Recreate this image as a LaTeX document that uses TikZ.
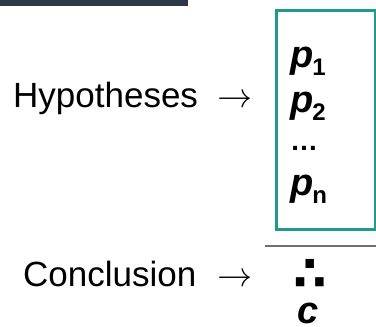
\documentclass[tikz,border=0pt]{standalone}
\usepackage{fontspec}
\usepackage{unicode-math}
\setmainfont{Liberation Sans}
\setmathfont{Latin Modern Math}
\newfontfamily\dejavu{DejaVu Sans}
\definecolor{tealbox}{HTML}{1F9A8C}
\definecolor{navybar}{HTML}{2D3748}
\definecolor{rulegray}{HTML}{707070}
\begin{document}
\begin{tikzpicture}[x=1pt,y=-1pt,
  lbl/.style={anchor=base west, inner sep=0pt, font=\fontsize{35}{40}\selectfont},
  prem/.style={anchor=base west, inner sep=0pt, font=\fontsize{38}{44}\selectfont\bfseries\itshape}]
\useasboundingbox (0,0) rectangle (376,327);
\fill[navybar] (0,0) rectangle (188,6);
\node[draw=tealbox, line width=3pt, minimum width=99pt, minimum height=219pt, anchor=north west, inner sep=0pt] (box) at (274.5,8.5) {};
\newcommand{\mysub}[1]{\kern-1pt\raisebox{-8pt}{\fontsize{24}{28}\selectfont\bfseries\upshape #1}}
\node[lbl] (hyp) at (13,107) {Hypotheses\hspace{19pt}$\rightarrow$};
\node[prem] (p1) at (290,67) {p\mysub{1}};
\node[prem] (p2) at (290,112) {p\mysub{2}};
\node[anchor=base west, inner sep=0pt, font=\fontsize{28}{32}\selectfont\bfseries] (dots) at (290,150) {…};
\node[prem] (pn) at (290,195) {p\mysub{n}};
\coordinate (ruleL) at (265,245.5);
\coordinate (ruleR) at (376,245.5);
\draw[rulegray, line width=2pt] (ruleL) -- (ruleR);
\node[lbl] (conc) at (23,286) {Conclusion\hspace{21pt}$\rightarrow$};
\node[anchor=base west, inner sep=0pt, font=\fontsize{48}{52}\selectfont\dejavu\bfseries] (therefore) at (293,290.5) {∴};
\node[prem] (c) at (297,323.5) {c};
\end{tikzpicture}
\end{document}
